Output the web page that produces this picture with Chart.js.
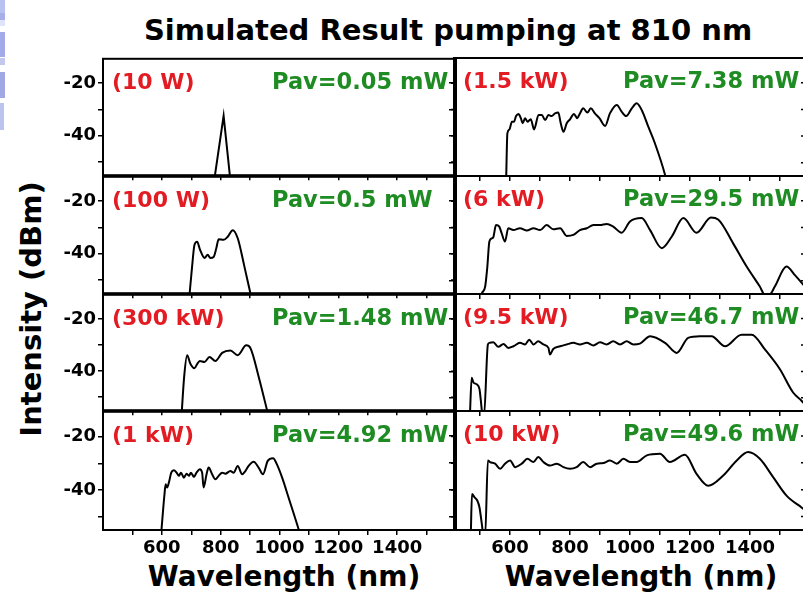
<!DOCTYPE html>
<html>
<head>
<meta charset="utf-8">
<title>Simulated Result pumping at 810 nm</title>
<script src="https://cdn.jsdelivr.net/npm/chart.js@4.4.1/dist/chart.umd.min.js"></script>
<style>
    html, body { margin: 0; padding: 0; background: #fff; }
    body {
        position: relative;
        width: 803px;
        height: 596px;
        overflow: hidden;
        font-family: "DejaVu Sans", sans-serif;
        font-weight: bold;
        color: #000;
    }
    canvas.panel { position: absolute; }
    .txt { position: absolute; white-space: nowrap; line-height: 1; }
    #title { left: 448px; top: 16px; font-size: 29px; transform: translateX(-50%); }
    #yTitle { left: 31px; top: 309px; font-size: 29px; transform: translate(-50%, -50%) rotate(-90deg); }
    .xTitle { top: 563px; font-size: 28px; transform: translateX(-50%); }
    .strip { position: absolute; left: 0; width: 5px; }
</style>
</head>
<body>
<!-- bluish edge left over from the slide background -->
<div class="strip" style="top:0;height:13px;background:#b9c1f0"></div>
<div class="strip" style="top:13px;height:7px;background:#a6afe8"></div>
<div class="strip" style="top:20px;height:6px;background:#dfe4fa"></div>
<div class="strip" style="top:32px;height:25px;background:#a2aaea"></div>
<div class="strip" style="top:58px;height:7px;background:#c2c8ee"></div>
<div class="strip" style="top:72px;height:26px;background:#a0a8e6"></div>
<div class="strip" style="top:103px;height:27px;width:4px;background:#bcc3ef"></div>

<div id="title" class="txt">Simulated Result pumping at 810 nm</div>
<div id="yTitle" class="txt">Intensity (dBm)</div>
<div class="txt xTitle" style="left:284px">Wavelength (nm)</div>
<div class="txt xTitle" style="left:641px">Wavelength (nm)</div>

<canvas id="chart10W" class="panel"></canvas>
<canvas id="chart100W" class="panel"></canvas>
<canvas id="chart300kW" class="panel"></canvas>
<canvas id="chart1kW" class="panel"></canvas>
<canvas id="chart1p5kW" class="panel"></canvas>
<canvas id="chart6kW" class="panel"></canvas>
<canvas id="chart9p5kW" class="panel"></canvas>
<canvas id="chart10kW" class="panel"></canvas>

<script>
// Spectra: wavelength (nm) and intensity (dBm) for each peak power
const wl10W = [778, 810, 833];
const dbm10W = [-57, -32.4, -57];

const wl100W = [693, 703, 711, 720, 730, 745, 756, 765, 776, 785, 793, 810, 824, 841, 858, 880, 905];
const dbm100W = [-57, -44.7, -36.6, -35.4, -38.5, -41.6, -40.4, -41.6, -41.2, -38.0, -34.5, -34.7, -33.5, -31.0, -34.1, -44.5, -57];

const wl300kW = [667, 676, 686, 697, 711, 720, 729, 745, 762, 782, 805, 833, 858, 887, 901, 930, 962];
const dbm300kW = [-57, -42, -33.9, -37.2, -38.9, -37.3, -36.1, -36.5, -34.6, -36.1, -33.0, -32.1, -33.9, -30.1, -31.1, -42.5, -57];

const wl1kW = [598, 609, 613, 618, 624, 632, 641, 650, 658, 665, 675, 684, 692, 699, 709, 718, 729, 737, 742, 752,
               759, 771, 782, 793, 805, 816, 833, 844, 858, 873, 884, 895, 912, 929, 944, 960, 978, 992, 1009, 1031,
               1065, 1071];
const dbm1kW = [-56, -41.6, -37.9, -39.1, -37.2, -33.5, -32.6, -33.5, -34.7, -33.5, -35.4, -33.9, -34.7, -33.5, -35.1, -33.5, -32.2, -33.5, -39.1, -34.1,
                -31.6, -34.1, -36.0, -34.7, -33.5, -33.9, -32.9, -33.5, -31.0, -34.1, -32.9, -31.0, -29.4, -31.6, -34.1, -29.1, -28.1, -30.6, -35.4, -42.9,
                -54.7, -57];

const wl1p5kW = [587, 591, 598, 606, 613, 620, 628, 636, 642, 650, 658, 669, 680, 695, 706, 717, 728, 739, 750, 761,
                 769, 778, 789, 800, 813, 824, 833, 844, 858, 869, 883, 898, 917, 933, 956, 972, 987, 1006, 1022, 1039,
                 1061, 1083, 1117, 1122];
const dbm1p5kW = [-56, -39.0, -37.5, -34.6, -34.6, -32.5, -31.7, -33.3, -35.2, -33.3, -34.6, -33.7, -37.5, -32.1, -32.1, -34.0, -32.1, -32.5, -31.5, -31.2,
                  -35.2, -38.4, -35.2, -33.7, -31.7, -33.3, -31.5, -29.6, -31.2, -29.6, -31.5, -33.3, -36.2, -31.5, -28.3, -30.8, -32.5, -29.6, -27.7, -30.2,
                  -36.5, -42.7, -54.6, -57];

const wl6kW = [500, 506, 517, 524, 531, 539, 544, 553, 564, 572, 583, 594, 611, 633, 656, 678, 700, 722, 744, 767,
               789, 811, 833, 856, 878, 900, 922, 944, 972, 1000, 1039, 1067, 1106, 1139, 1178, 1222, 1270, 1294, 1344, 1389,
               1433, 1450, 1465, 1483, 1522, 1550, 1577, 1595];
const dbm6kW = [-57, -54.7, -52.2, -45, -35.3, -34.1, -33.7, -29.1, -29.7, -32.2, -35.3, -30.3, -31.0, -30.3, -31.2, -30.3, -31.0, -29.1, -30.7, -30.3,
                -33.2, -32.8, -31.0, -30.3, -29.1, -29.1, -28.7, -29.7, -32.0, -27.8, -26.5, -31.0, -37.8, -33.5, -26.5, -32.0, -26.3, -27.0, -36.0, -44.7,
                -52.2, -55.3, -55.3, -52.2, -44.7, -47.9, -51.4, -54];

const wl9p5kW = [466, 472, 478, 489, 498, 502, 509, 513, 526, 531, 544, 561, 578, 594, 611, 633, 650, 664, 678, 694,
                 711, 728, 733, 744, 767, 789, 811, 833, 856, 878, 900, 922, 944, 967, 989, 1011, 1033, 1067, 1117, 1156,
                 1194, 1233, 1272, 1317, 1372, 1406, 1450, 1500, 1544, 1572, 1595];
const dbm9p5kW = [-57, -42.4, -44.2, -44.9, -46.7, -50.5, -57, -57, -29.8, -29.2, -29.0, -30.7, -29.6, -31.1, -30.5, -29.2, -29.8, -28.0, -29.8, -28.6,
                  -29.8, -31.1, -33.6, -31.5, -30.5, -29.8, -29.2, -29.8, -29.2, -30.2, -29.0, -29.8, -28.6, -29.8, -28.6, -29.8, -29.5, -26.7, -29.2, -33.0,
                  -27.3, -26.7, -26.7, -30.5, -26.1, -26.1, -31.7, -39.2, -48.0, -51.1, -54];

const wl10kW = [469, 473, 481, 491, 498, 506, 511, 517, 526, 533, 550, 567, 583, 600, 617, 639, 658, 678, 694, 711,
                733, 756, 778, 800, 822, 844, 867, 889, 911, 933, 956, 978, 1000, 1022, 1056, 1100, 1133, 1183, 1222, 1261,
                1311, 1356, 1394, 1433, 1478, 1522, 1572, 1595];
const dbm10kW = [-57, -41.6, -42.8, -44.1, -46.6, -52.9, -57, -57, -29.1, -29.7, -30.3, -32.2, -30.3, -29.1, -31.6, -30.3, -28.5, -29.7, -27.8, -29.7,
                 -31.0, -30.3, -31.6, -32.2, -31.6, -29.7, -31.6, -30.3, -30.1, -29.1, -30.3, -28.5, -29.7, -29.7, -27.2, -26.6, -29.7, -27.0, -34.1, -38.5,
                 -34.7, -29.1, -26.0, -28.5, -35.4, -42.2, -46.6, -48.5];

// Axis ticks
const xTicks = [500, 600, 700, 800, 900, 1000, 1100, 1200, 1300, 1400, 1500];
const xLabels = [600, 800, 1000, 1200, 1400];
const yTicks = [-50, -40, -30, -20];
const yLabels = [-20, -40];

// Panel captions
const peakPower = ['(10 W)', '(100 W)', '(300 kW)', '(1 kW)', '(1.5 kW)', '(6 kW)', '(9.5 kW)', '(10 kW)'];
const avgPower = ['Pav=0.05 mW', 'Pav=0.5 mW', 'Pav=1.48 mW', 'Pav=4.92 mW', 'Pav=7.38 mW', 'Pav=29.5 mW', 'Pav=46.7 mW', 'Pav=49.6 mW'];

document.addEventListener('DOMContentLoaded', function() {
    Chart.defaults.font.family = '"DejaVu Sans", sans-serif';
    Chart.defaults.color = '#000';

    // Panel grid (pixels)
    const rowTop = [58, 176, 294, 411];
    const rowBottom = [176, 294, 411, 530];
    const columns = [
        { left: 103, right: 456, xMin: 400, xMax: 1600, axisW: 103 },
        { left: 454, right: 806, xMin: 413, xMax: 1587, axisW: 14 }
    ];
    const padTop = 12, padRight = 4;

    // Frame, inner right ticks and the two captions of a panel
    function panelDecor(peak, pav) {
        return {
            id: 'panelDecor',
            afterDatasetsDraw(chart) {
                const { ctx, chartArea: a, scales: { y } } = chart;
                ctx.save();
                ctx.strokeStyle = '#000';
                ctx.lineWidth = 2;
                ctx.strokeRect(a.left, a.top, a.right - a.left, a.bottom - a.top);
                ctx.lineWidth = 1.5;
                ctx.beginPath();
                yTicks.forEach(function(v) {
                    const py = y.getPixelForValue(v);
                    ctx.moveTo(a.right - 5, py);
                    ctx.lineTo(a.right, py);
                });
                ctx.stroke();
                ctx.font = 'bold 22px "DejaVu Sans"';
                ctx.textBaseline = 'middle';
                ctx.fillStyle = '#e31b23';
                ctx.fillText(peak, a.left + 9, a.top + 24);
                ctx.font = 'bold 22.5px "DejaVu Sans"';
                ctx.fillStyle = '#1e8c23';
                ctx.fillText(pav, a.left + 169, a.top + 24);
                ctx.restore();
            }
        };
    }

    function makePanel(id, col, row, wl, dbm, index, sharp) {
        const c = columns[col];
        const bottomRow = row === 3;
        const xH = bottomRow ? 44 : 6;
        const padBottom = bottomRow ? 0 : 6;
        const canvas = document.getElementById(id);
        canvas.width = c.axisW + (c.right - c.left) + padRight;
        canvas.height = padTop + (rowBottom[row] - rowTop[row]) + xH + padBottom;
        canvas.style.left = (c.left - c.axisW) + 'px';
        canvas.style.top = (rowTop[row] - padTop) + 'px';

        return new Chart(canvas.getContext('2d'), {
            type: 'line',
            data: {
                datasets: [{
                    data: wl.map(function(x, i) { return { x: x, y: dbm[i] }; }),
                    borderColor: '#000',
                    borderWidth: 2,
                    pointRadius: 0,
                    fill: false,
                    tension: sharp ? 0 : 0.4,
                    cubicInterpolationMode: sharp ? 'default' : 'monotone'
                }]
            },
            options: {
                responsive: false,
                animation: false,
                layout: { padding: { top: padTop, right: padRight, bottom: padBottom, left: 0 } },
                scales: {
                    x: {
                        type: 'linear',
                        min: c.xMin,
                        max: c.xMax,
                        afterBuildTicks: function(scale) {
                            scale.ticks = xTicks.map(function(v) { return { value: v }; });
                        },
                        afterFit: function(scale) { scale.height = xH; },
                        border: { display: false },
                        grid: {
                            drawOnChartArea: false,
                            drawTicks: true,
                            tickLength: 5,
                            tickColor: '#000',
                            lineWidth: 1.5
                        },
                        ticks: {
                            display: bottomRow,
                            autoSkip: false,
                            maxRotation: 0,
                            padding: 3,
                            font: { size: 18, weight: 'bold' },
                            callback: function(v) { return xLabels.includes(v) ? String(v) : ''; }
                        }
                    },
                    y: {
                        min: -55,
                        max: -10.7,
                        afterBuildTicks: function(scale) {
                            scale.ticks = yTicks.map(function(v) { return { value: v }; });
                        },
                        afterFit: function(scale) { scale.width = c.axisW; },
                        border: { display: false },
                        grid: {
                            drawOnChartArea: false,
                            drawTicks: true,
                            tickLength: 5,
                            tickColor: '#000',
                            lineWidth: 1.5
                        },
                        ticks: {
                            display: col === 0,
                            autoSkip: false,
                            padding: 2,
                            font: { size: 18, weight: 'bold' },
                            callback: function(v) { return yLabels.includes(v) ? String(v) : ''; }
                        }
                    }
                },
                plugins: {
                    legend: { display: false },
                    tooltip: { enabled: false }
                }
            },
            plugins: [panelDecor(peakPower[index], avgPower[index])]
        });
    }

    // Left column: 10 W .. 1 kW
    makePanel('chart10W', 0, 0, wl10W, dbm10W, 0, true);
    makePanel('chart100W', 0, 1, wl100W, dbm100W, 1);
    makePanel('chart300kW', 0, 2, wl300kW, dbm300kW, 2);
    makePanel('chart1kW', 0, 3, wl1kW, dbm1kW, 3);

    // Right column: 1.5 kW .. 10 kW
    makePanel('chart1p5kW', 1, 0, wl1p5kW, dbm1p5kW, 4);
    makePanel('chart6kW', 1, 1, wl6kW, dbm6kW, 5);
    makePanel('chart9p5kW', 1, 2, wl9p5kW, dbm9p5kW, 6);
    makePanel('chart10kW', 1, 3, wl10kW, dbm10kW, 7);
});
</script>
</body>
</html>
